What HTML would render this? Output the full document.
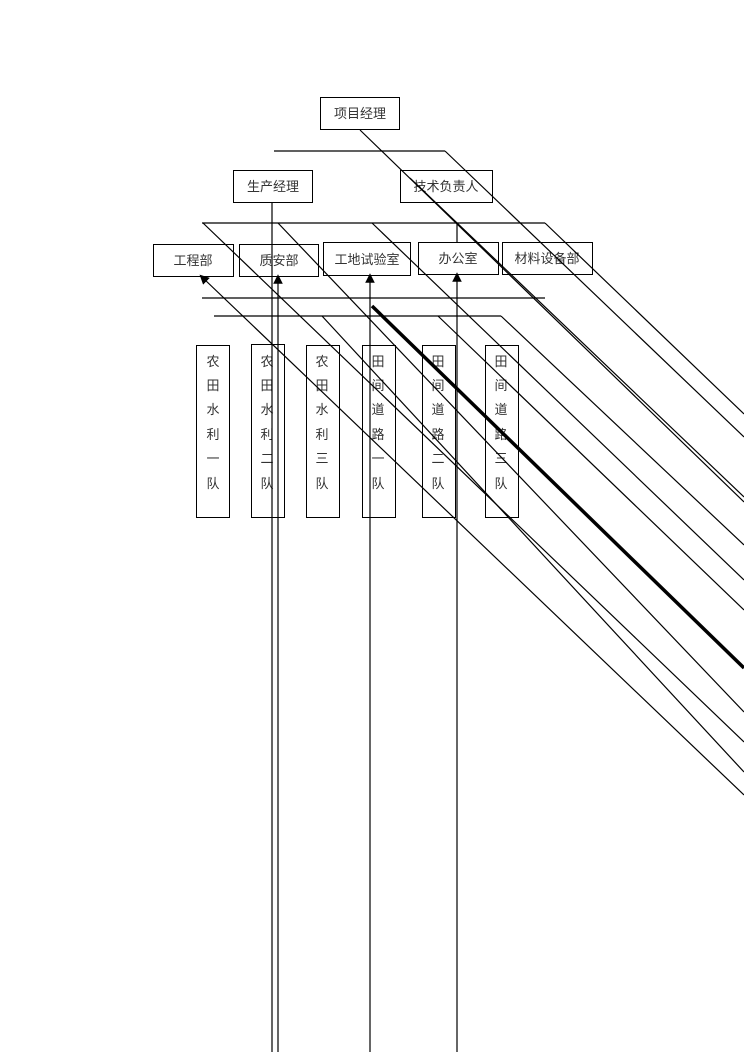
<!DOCTYPE html>
<html><head><meta charset="utf-8"><style>
html,body{margin:0;padding:0;background:#fff}
svg text{font-family:"Liberation Sans","Noto Sans CJK SC",sans-serif;font-size:13px;fill:#333}
</style></head><body>
<svg width="744" height="1052" viewBox="0 0 744 1052" xmlns="http://www.w3.org/2000/svg">
<defs><marker id="a" markerWidth="8" markerHeight="8" refX="4" refY="4" orient="auto"><path d="M0,0 L8,4 L0,8 z" fill="#000"/></marker></defs>
<g fill="#fff" stroke="#000" stroke-width="1">
<rect x="320.5" y="97.5" width="79" height="32"/>
<rect x="233.5" y="170.5" width="79" height="32"/>
<rect x="400.5" y="170.5" width="92" height="32"/>
<rect x="153.5" y="244.5" width="80" height="32"/>
<rect x="239.5" y="244.5" width="79" height="32"/>
<rect x="323.5" y="242.5" width="87" height="33"/>
<rect x="418.5" y="242.5" width="80" height="32"/>
<rect x="502.5" y="242.5" width="90" height="32"/>
<rect x="196.5" y="345.5" width="33" height="172"/>
<rect x="251.5" y="344.5" width="33" height="173"/>
<rect x="306.5" y="345.5" width="33" height="172"/>
<rect x="362.5" y="345.5" width="33" height="172"/>
<rect x="422.5" y="345.5" width="33" height="172"/>
<rect x="485.5" y="345.5" width="33" height="172"/>
</g>
<g text-anchor="middle">
<text x="360" y="118">项目经理</text>
<text x="273" y="191">生产经理</text>
<text x="446" y="191">技术负责人</text>
<text x="193" y="265">工程部</text>
<text x="279" y="265">质安部</text>
<text x="367" y="264">工地试验室</text>
<text x="458" y="263">办公室</text>
<text x="547" y="263">材料设备部</text>
</g>
<g text-anchor="middle">
<text x="213" y="366">农</text><text x="213" y="390">田</text><text x="213" y="414">水</text><text x="213" y="439">利</text><text x="213" y="463">一</text><text x="213" y="488">队</text>
<text x="267" y="366">农</text><text x="267" y="390">田</text><text x="267" y="414">水</text><text x="267" y="439">利</text><text x="267" y="463">二</text><text x="267" y="488">队</text>
<text x="322" y="366">农</text><text x="322" y="390">田</text><text x="322" y="414">水</text><text x="322" y="439">利</text><text x="322" y="463">三</text><text x="322" y="488">队</text>
<text x="378" y="366">田</text><text x="378" y="390">间</text><text x="378" y="414">道</text><text x="378" y="439">路</text><text x="378" y="463">一</text><text x="378" y="488">队</text>
<text x="438" y="366">田</text><text x="438" y="390">间</text><text x="438" y="414">道</text><text x="438" y="439">路</text><text x="438" y="463">二</text><text x="438" y="488">队</text>
<text x="501" y="366">田</text><text x="501" y="390">间</text><text x="501" y="414">道</text><text x="501" y="439">路</text><text x="501" y="463">三</text><text x="501" y="488">队</text>
</g>
<g stroke="#000" stroke-width="1.2" fill="none">
<line x1="274" y1="151" x2="445" y2="151"/>
<line x1="202" y1="223" x2="545" y2="223"/>
<line x1="202" y1="298" x2="545" y2="298"/>
<line x1="214" y1="316" x2="501" y2="316"/>
<line x1="272" y1="202" x2="272" y2="1052"/>
<line x1="278" y1="1052" x2="278" y2="279" marker-end="url(#a)"/>
<line x1="370" y1="1052" x2="370" y2="278" marker-end="url(#a)"/>
<line x1="457" y1="1052" x2="457" y2="277" marker-end="url(#a)"/>
<line x1="457" y1="223" x2="457" y2="242"/>
<line x1="360" y1="130" x2="744" y2="502"/>
<line x1="445" y1="151" x2="744" y2="437"/>
<line x1="545" y1="223" x2="744" y2="414"/>
<line x1="410" y1="178" x2="744" y2="497"/>
<line x1="372" y1="223" x2="744" y2="580"/>
<line x1="278" y1="223" x2="744" y2="668" stroke-width="0"/>
<line x1="203" y1="223" x2="744" y2="742"/>
<line x1="278" y1="223" x2="744" y2="712"/>
<line x1="501" y1="316" x2="744" y2="545"/>
<line x1="438" y1="316" x2="744" y2="610"/>
<line x1="744" y1="795" x2="203" y2="278" marker-end="url(#a)"/>
<line x1="322" y1="316" x2="744" y2="772"/>
<line x1="340" y1="410" x2="744" y2="795" stroke-width="0"/>
<line x1="268" y1="316" x2="744" y2="772" stroke-width="0"/>
<line x1="372" y1="306" x2="744" y2="668" stroke-width="3.5"/>
</g>
</svg>
</body></html>
